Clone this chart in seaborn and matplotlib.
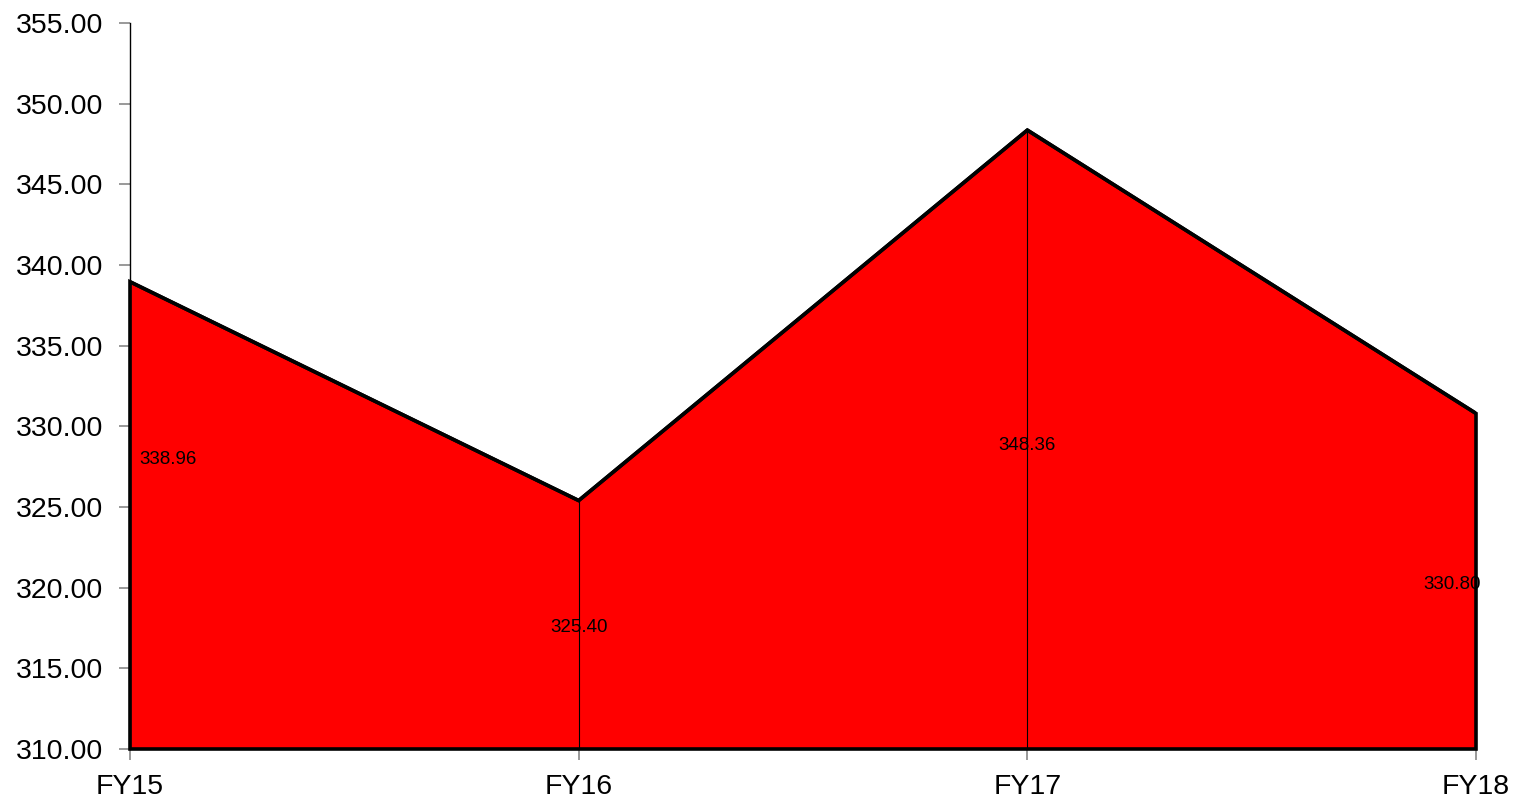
import pandas as pd
import seaborn as sns
import matplotlib.pyplot as plt
import numpy as np

years = ['FY15', 'FY16', 'FY17', 'FY18']
values = [338.96, 325.40, 348.36, 330.80]
# how high inside the area each label sits (fraction of value above the baseline)
label_frac = [0.62, 0.49, 0.49, 0.49]

ymin, ymax = 310, 355

sns.set_style('white')
plt.rcParams['font.family'] = ['Liberation Sans', 'DejaVu Sans']

df = pd.DataFrame({'year': years, 'value': values})
x = np.arange(len(years))

fig = plt.figure(figsize=(15.2, 8.01), dpi=100)
ax = fig.add_axes([130/1520, 52/801, 1346/1520, 726/801])

# filled area with outline
poly_x = np.concatenate([[x[0]], x, [x[-1]]])
poly_y = np.concatenate([[ymin], df['value'], [ymin]])
ax.fill(poly_x, poly_y, facecolor='#ff0000', edgecolor='black', linewidth=2.6, zorder=2, clip_on=False)
sns.lineplot(x=x, y=df['value'], color='black', linewidth=2.6, ax=ax, zorder=3)

# thin drop lines at the inner points
for i in range(1, len(x) - 1):
    ax.plot([x[i], x[i]], [ymin, values[i]], color='black', linewidth=0.8, zorder=3)

for i, v in enumerate(values):
    ly = ymin + (v - ymin) * label_frac[i]
    if i == 0:
        ha, xx = 'left', x[i] + 0.02
    elif i == len(values) - 1:
        ha, xx = 'right', x[i] + 0.01
    else:
        ha, xx = 'center', x[i]
    ax.text(xx, ly, f'{v:.2f}', ha=ha, va='center', fontsize=13.5, color='black', zorder=4)

ax.set_xlim(x[0], x[-1])
ax.set_ylim(ymin, ymax)
ax.set_xticks(x)
ax.set_xticklabels(years)
ax.set_yticks(np.arange(ymin, ymax + 1, 5))
ax.set_yticklabels([f'{t:.2f}' for t in np.arange(ymin, ymax + 1, 5)])
ax.tick_params(axis='both', labelsize=20.5, colors='#888888', labelcolor='black',
               direction='out', length=8, width=1.2, left=True, bottom=True)
ax.tick_params(axis='y', pad=11)
ax.tick_params(axis='x', pad=10)
ax.set_xlabel('')
ax.set_ylabel('')
for s in ['top', 'right']:
    ax.spines[s].set_visible(False)
ax.spines['left'].set_color('black')
ax.spines['left'].set_linewidth(1)
ax.spines['bottom'].set_visible(False)

fig.savefig('out.png', dpi=100)
